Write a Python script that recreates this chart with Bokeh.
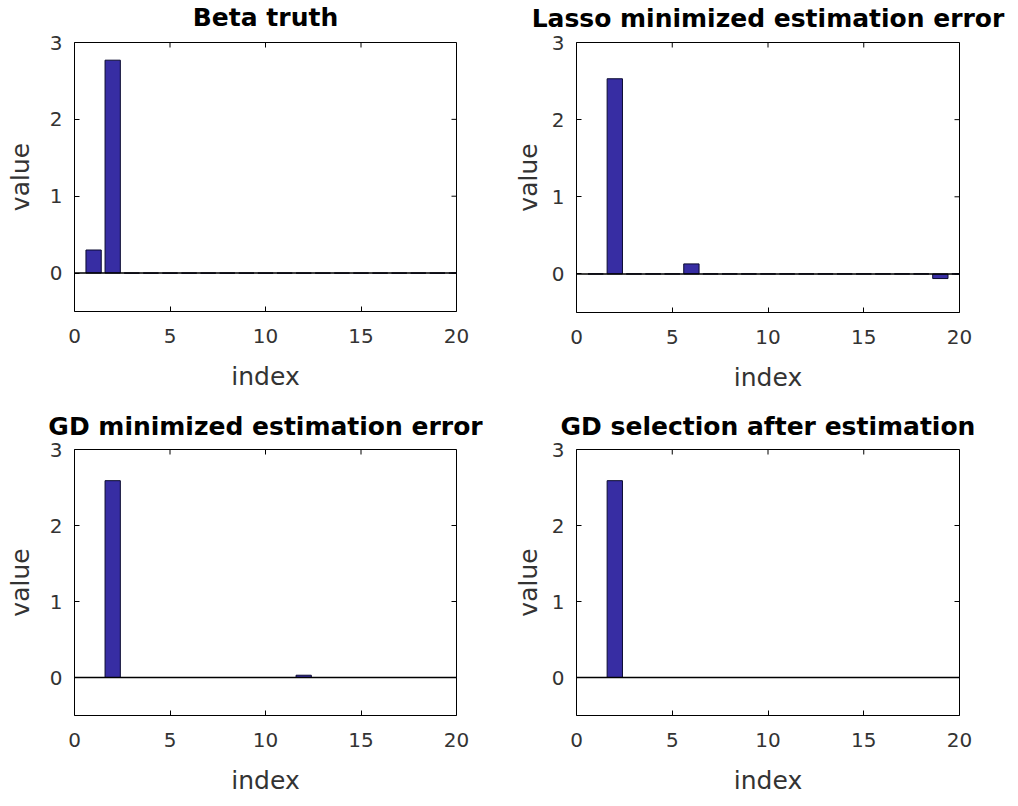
import math
from bokeh.plotting import figure
from bokeh.layouts import gridplot
from bokeh.models import Span, Range1d, FixedTicker, Title
from bokeh.embed import file_html
from bokeh.resources import INLINE

# ---- data ----
index = list(range(1, 21))
beta_truth = [0.30, 2.77] + [0.0] * 18
lasso_est = [0.0, 2.53, 0.0, 0.0, 0.0, 0.13] + [0.0] * 12 + [-0.06, 0.0]
gd_est = [0.0, 2.59] + [0.0] * 9 + [0.03] + [0.0] * 8
gd_select = [0.0, 2.59] + [0.0] * 18

titles = ["Beta truth", "Lasso minimized estimation error",
          "GD minimized estimation error", "GD selection after estimation"]
series = [beta_truth, lasso_est, gd_est, gd_select]
x_ticks = [0, 5, 10, 15, 20]
y_ticks = [0, 1, 2, 3]
x_min, x_max = 0, 20
y_min, y_max = -0.5, 3

FONT = "DejaVu Sans"
BAR_FILL = "#372da3"
TICK_COLOR = "#333333"

# (min_border_left, min_border_right, min_border_top, min_border_bottom, frame_w, frame_h,
#  ylabel_standoff, title bottom padding)
geom = [
    (74, 53, 40, 94, 382, 269, 12, 11),
    (67, 59, 39, 94, 383, 270, 6, 10),
    (74, 53, 44, 93, 382, 266, 12, 9),
    (67, 59, 44, 93, 383, 266, 6, 9),
]


def make(title, vals, g):
    bl, br, bt, bb, fw, fh, yls, tpad = g
    p = figure(frame_width=fw, frame_height=fh, output_backend="svg",
               toolbar_location=None, x_range=Range1d(x_min, x_max),
               y_range=Range1d(y_min, y_max), title=None,
               min_border_left=bl, min_border_right=br,
               min_border_top=bt, min_border_bottom=bb)
    p.grid.visible = False
    p.outline_line_color = "black"
    p.outline_line_width = 1
    p.background_fill_color = "white"
    p.border_fill_color = "white"

    for ax in (p.xaxis[0], p.yaxis[0]):
        ax.major_tick_in = 5
        ax.major_tick_out = 0
        ax.minor_tick_in = 0
        ax.minor_tick_out = 0
        ax.axis_line_color = None
        ax.major_tick_line_color = "black"
        ax.major_label_text_font = FONT
        ax.major_label_text_font_size = "20px"
        ax.major_label_text_color = TICK_COLOR
        ax.axis_label_text_font = FONT
        ax.axis_label_text_font_size = "25px"
        ax.axis_label_text_font_style = "normal"
        ax.axis_label_text_color = TICK_COLOR
    p.xaxis[0].ticker = FixedTicker(ticks=x_ticks)
    p.yaxis[0].ticker = FixedTicker(ticks=y_ticks)
    p.xaxis[0].axis_label = "index"
    p.yaxis[0].axis_label = "value"
    p.xaxis[0].major_label_standoff = 17
    p.yaxis[0].major_label_standoff = 12
    p.xaxis[0].axis_label_standoff = 16
    p.yaxis[0].axis_label_standoff = yls

    # mirrored inward ticks on top and right edges of the box
    p.ray(x=x_ticks, y=[y_max] * len(x_ticks), length=5, length_units="screen",
          angle=-math.pi / 2, line_color="black", line_width=1)
    p.ray(x=[x_max] * len(y_ticks), y=y_ticks, length=5, length_units="screen",
          angle=math.pi, line_color="black", line_width=1)

    p.vbar(x=index, top=vals, bottom=0, width=0.8, fill_color=BAR_FILL,
           line_color="#0a0a30", line_width=1)
    p.add_layout(Span(location=0, dimension="width", line_color="black", line_width=1.5))

    t = Title(text=title, align="center", vertical_align="bottom", text_font=FONT,
              text_font_size="25px", text_font_style="bold", text_color="black",
              standoff=0, offset=0,
              padding=dict(left=0, right=0, top=0, bottom=tpad))
    p.add_layout(t, "above")
    return p


plots = [make(t, v, g) for t, v, g in zip(titles, series, geom)]
grid = gridplot([[plots[0], plots[1]], [plots[2], plots[3]]], toolbar_location=None)

open("out.html", "w").write(file_html(grid, INLINE))
